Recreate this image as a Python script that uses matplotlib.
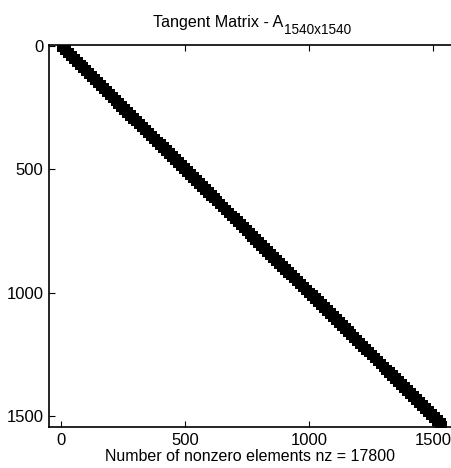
import numpy as np
import matplotlib
matplotlib.use("Agg")
import matplotlib.pyplot as plt

plt.rcParams['font.family'] = ['Liberation Sans', 'DejaVu Sans']

# matrix description
n = 1540
nz = 17800
block = 12             # nonzeros grouped in diagonal blocks of this size
xticks = [0, 500, 1000, 1500]
yticks = [0, 500, 1000, 1500]

# sparsity pattern of the block-banded tangent matrix
idx = np.arange(n)
rows, cols = np.meshgrid(idx, idx, indexing='ij')
mask = (rows // block == cols // block)
rows = rows[mask]
cols = cols[mask]

fig = plt.figure(figsize=(4.52, 4.68), dpi=100)
ax = fig.add_axes([49 / 452, 1 - 427 / 468, 1 - 49 / 452, 382 / 468])

ax.plot(cols, rows, linestyle='none', marker='s', markersize=5.4,
        color='black', markeredgewidth=0)

ax.set_xlim(-48, 1576)
ax.set_ylim(1545, -3)
ax.set_xticks(xticks)
ax.set_yticks(yticks)
ax.tick_params(direction='in', length=4, width=0.8, labelsize=12,
               top=True, right=False, pad=4)
ax.spines['right'].set_visible(False)
for s in ['left', 'bottom', 'top']:
    ax.spines[s].set_linewidth(1.2)

# title: main text plus a lowered subscript
fig.text(153 / 452, 1 - 27 / 468, 'Tangent Matrix - A', fontsize=11.6,
         ha='left', va='baseline')
fig.text(284 / 452, 1 - 34 / 468, '1540x1540', fontsize=9.8,
         ha='left', va='baseline')
ax.set_xlabel('Number of nonzero elements nz = %d' % nz, fontsize=11.5, labelpad=1)

fig.savefig('out.png', dpi=100)
